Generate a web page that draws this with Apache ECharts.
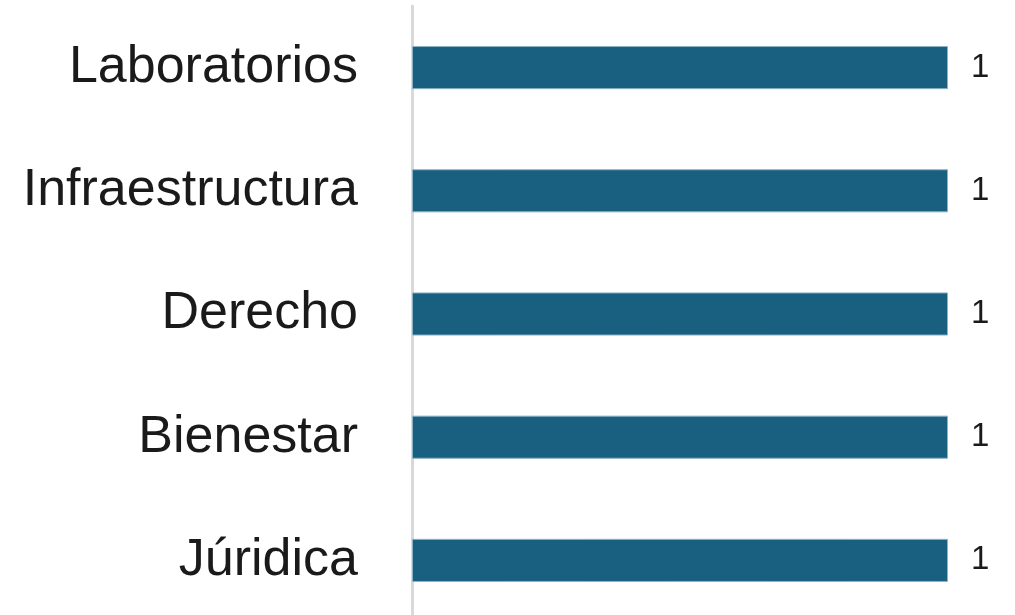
<!DOCTYPE html>
<html>
<head>
<meta charset="utf-8">
<script src="https://cdn.jsdelivr.net/npm/echarts@6/dist/echarts.min.js"></script>
<style>
  html, body { margin: 0; padding: 0; background: #fff; }
  #main { width: 1015px; height: 615px; }
</style>
</head>
<body>
<div id="main"></div>
<script>
// categories and values
var categories = ['Laboratorios', 'Infraestructura', 'Derecho', 'Bienestar', 'Júridica'];
var values = [1, 1, 1, 1, 1];

var myChart = echarts.init(document.getElementById('main'));

var option = {
    animation: false,
    grid: {
        left: 412,
        right: 67,
        top: 6,
        bottom: -7,
        outerBoundsMode: 'none'
    },
    xAxis: {
        type: 'value',
        min: 0,
        max: 1,
        show: false
    },
    yAxis: {
        type: 'category',
        data: categories,
        inverse: true,
        axisLine: {
            show: true,
            lineStyle: { color: '#d9d9d9', width: 3 }
        },
        axisTick: { show: false },
        axisLabel: {
            margin: 54,
            fontSize: 52,
            fontFamily: 'Liberation Sans',
            color: '#1a1a1a',
            padding: [6, 0, 0, 0]
        }
    },
    series: [
        {
            type: 'bar',
            data: values,
            barWidth: '35%',
            itemStyle: {
                color: '#185f80',
                borderColor: '#8fb3c6',
                borderWidth: 1
            },
            label: {
                show: true,
                position: 'right',
                distance: 23,
                fontSize: 33,
                fontFamily: 'Liberation Sans',
                color: '#1a1a1a'
            }
        }
    ]
};

myChart.setOption(option);
</script>
</body>
</html>
